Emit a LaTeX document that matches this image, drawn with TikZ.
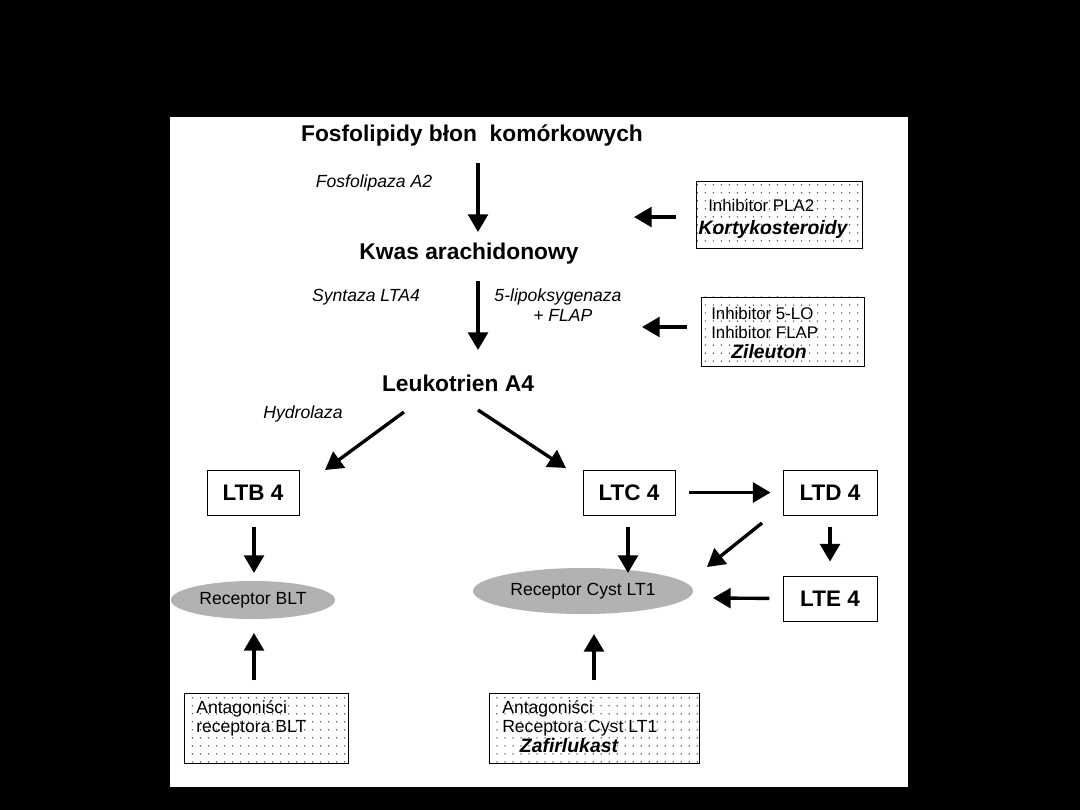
\documentclass[tikz,border=0pt]{standalone}
\usepackage{fontspec}
\setmainfont{Liberation Sans}
\usetikzlibrary{arrows.meta,patterns.meta,shapes.geometric}
\tikzdeclarepattern{name=sparsedots, type=uncolored,
  bottom left={(-1pt,-1pt)}, top right={(4.7pt,4.7pt)},
  tile size={(5.7pt,5.7pt)},
  code={\fill (0pt,0pt) circle (0.55pt);}}
\tikzset{
  arr/.style={line width=2.4pt, -{Triangle[length=12.5pt,width=14pt]}},
  ltbox/.style={draw, line width=0.6pt, fill=white, rectangle, inner sep=0pt,
     minimum height=1.125cm, font=\fontsize{16}{18}\selectfont\bfseries},
  dotbox/.style={draw, line width=0.6pt, rectangle, inner sep=0pt,
     preaction={fill=white}, pattern=sparsedots, pattern color=black!70},
  recep/.style={ellipse, fill=black!30, inner sep=0pt,
     font=\fontsize{12.5}{14}\selectfont},
  big/.style={font=\fontsize{16.2}{19}\selectfont\bfseries},
  lab/.style={font=\fontsize{12.5}{14.5}\selectfont\itshape},
  txt/.style={font=\fontsize{12.5}{14.5}\selectfont, inner sep=0pt},
  txts/.style={font=\fontsize{12}{14}\selectfont, inner sep=0pt},
  bit/.style={font=\fontsize{13.8}{16}\selectfont\bfseries\itshape, inner sep=0pt}
}
\begin{document}
\begin{tikzpicture}[x=0.025cm,y=-0.025cm]
\fill[black] (0,0) rectangle (1080,810);
\fill[white] (170,117) rectangle (908,787);

% main chain
\node[big] (fos) at (472,136) {Fosfolipidy błon\ \ komórkowych};
\node[big] (kwas) at (469,254) {Kwas arachidonowy};
\node[big] (lta4) at (458,383) {Leukotrien A4};
\node[lab] (fla2) at (374,183) {Fosfolipaza A2};
\node[lab] (synt) at (366,297) {Syntaza LTA4};
\node[lab, align=center] (lipo) at (558,305) {5-lipoksygenaza\\\ \ + FLAP};
\node[lab] (hydr) at (303,414) {Hydrolaza};

% inhibitor boxes
\node[dotbox, minimum width=4.15cm, minimum height=1.675cm] (pla) at (779,214.5) {};
\node[txts, anchor=west] (pla1) at (708,205) {Inhibitor PLA2};
\node[bit] (pla2) at (773,229) {Kortykosteroidy};
\node[dotbox, minimum width=4.075cm, minimum height=1.725cm] (lo) at (782.5,331.5) {};
\node[txts, anchor=west] (lo1) at (711,313) {Inhibitor 5-LO};
\node[txts, anchor=west] (lo2) at (711,332) {Inhibitor FLAP};
\node[bit] (lo3) at (769,352) {Zileuton};

% LT boxes
\node[ltbox, minimum width=2.3cm] (ltb) at (253,492.5) {LTB 4};
\node[ltbox, minimum width=2.3cm] (ltc) at (629,492.5) {LTC 4};
\node[ltbox, minimum width=2.35cm] (ltd) at (830,492.5) {LTD 4};
\node[ltbox, minimum width=2.35cm] (lte) at (830,598.5) {LTE 4};

% receptors
\node[recep, minimum width=4.1cm, minimum height=0.95cm] (rblt) at (253,600) {Receptor BLT};
\node[recep, minimum width=5.5cm, minimum height=1.15cm] (rcys) at (583,591) {Receptor Cyst LT1};

% antagonist boxes
\node[dotbox, minimum width=4.1cm, minimum height=1.75cm] (ant1) at (266,728) {};
\node[txt, anchor=west] (ant1a) at (196,709) {Antagoniści};
\node[txt, anchor=west] (ant1b) at (196,728) {receptora BLT};
\node[dotbox, minimum width=5.25cm, minimum height=1.75cm] (ant2) at (594,728) {};
\node[txt, anchor=west] (ant2a) at (502,709) {Antagoniści};
\node[txt, anchor=west] (ant2b) at (502,728) {Receptora Cyst LT1};
\node[bit] (ant2c) at (569,746) {Zafirlukast};

% arrow end points
\coordinate (a1s) at (478,163); \coordinate (a1e) at (478,232);
\coordinate (a2s) at (676,217); \coordinate (a2e) at (634,217);
\coordinate (a3s) at (478,281); \coordinate (a3e) at (478,350);
\coordinate (a4s) at (687,327); \coordinate (a4e) at (642,327);
\coordinate (a5s) at (404,412); \coordinate (a5e) at (325,470);
\coordinate (a6s) at (478,410); \coordinate (a6e) at (566,468);
\coordinate (a9s) at (762,523); \coordinate (a9e) at (707,567);
\coordinate (a10e) at (713,598);
\coordinate (a11e) at (628,573);
\coordinate (a12e) at (254,573);
\coordinate (a13s) at (254,680); \coordinate (a13e) at (254,633);
\coordinate (a14s) at (594,680); \coordinate (a14e) at (594,634);

\draw[arr] (a1s) -- (a1e);
\draw[arr] (a2s) -- (a2e);
\draw[arr] (a3s) -- (a3e);
\draw[arr] (a4s) -- (a4e);
\draw[arr] (a5s) -- (a5e);
\draw[arr] (a6s) -- (a6e);
\draw[arr, shorten <=0.35cm, shorten >=0.3cm] (ltc.east) -- (ltd.west);
\draw[arr, shorten <=0.3cm, shorten >=0.35cm] (ltd.south) -- (lte.north);
\draw[arr] (a9s) -- (a9e);
\draw[arr, shorten <=0.33cm] (lte.west) -- (a10e);
\draw[arr, shorten <=0.3cm] (ltc.south -| a11e) -- (a11e);
\draw[arr, shorten <=0.3cm] (ltb.south -| a12e) -- (a12e);
\draw[arr] (a13s) -- (a13e);
\draw[arr] (a14s) -- (a14e);
\end{tikzpicture}
\end{document}
